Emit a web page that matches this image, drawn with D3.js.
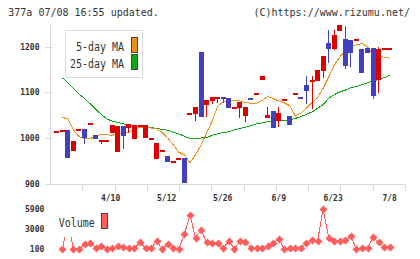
<!DOCTYPE html>
<html><head><meta charset="utf-8">
<script src="https://cdn.jsdelivr.net/npm/d3@7/dist/d3.min.js"></script>
<style>
body{margin:0;background:#fff}
svg{display:block}
text{font-family:"DejaVu Sans Mono","Liberation Mono",monospace}
</style>
</head><body>
<svg id="c" width="420" height="259"></svg>
<script>
// ---- data ----
const titleText = "377a 07/08 16:55 updated.";
const creditText = "(C)https://www.rizumu.net/";
const xLabels = ["4/10","5/12","5/26","6/9","6/23","7/8"];
const xLabelIdx = [9.7, 19.8, 29.9, 40, 49.8, 60];
const yTicks = [900, 1000, 1100, 1200];
const volTicks = [100, 3000, 5900];
const ma5Label = "5-day MA";
const ma25Label = "25-day MA";
const volLabel = "Volume";

const opens  = [1015,1017,1018,971,1019,1020,1033,1007,995,995,1010,970,1026,1023,998,1028,999,999,954,973,
                961,950,956,956,1055,1053,1188,1072,1081,1089,1089,1088,1067,1066,1048,1087,1099,1127,1044,1059,
                1037,1085,1048,1099,1089,1116,1124,1125,1147,1208,1195,1235,1217,1215,1216,1195,1197,1197,1127,1193,1197];
const closes = [1015,1017,957,993,1019,1001,1033,998,995,995,1028,1026,1005,1031,1028,1028,1028,999,989,973,
                948,950,956,902,1055,1068,1047,1083,1090,1089,1085,1066,1067,1079,1067,1084,1099,1136,1050,1023,
                1055,1085,1029,1099,1085,1104,1126,1149,1180,1195,1226,1247,1158,1186,1216,1143,1187,1092,1195,1197,1197];
const highs  = [1015,1017,1018,993,1019,1020,1033,1007,995,995,1028,1026,1026,1031,1028,1028,1028,999,989,973,
                961,950,956,956,1055,1068,1188,1083,1090,1089,1089,1088,1067,1079,1067,1087,1099,1136,1068,1059,
                1068,1085,1048,1099,1089,1136,1136,1149,1180,1236,1237,1247,1245,1215,1216,1195,1197,1197,1199,1197,1197];
const lows   = [1015,1017,957,971,1019,988,1033,998,988,995,1010,970,977,1010,998,1028,999,999,954,973,
                948,950,956,902,1055,1038,1047,1046,1074,1077,1076,1066,1067,1044,1036,1084,1099,1127,1044,1023,
                1025,1085,1029,1099,1085,1074,1063,1125,1132,1165,1193,1235,1152,1156,1216,1143,1187,1086,1099,1193,1197];
const ma5  = [null,1045,1042,1018,1003,999,998,1006,1007,1007,1006,1009,1010,1013,1020,1023,1023,1022,1020,1012,
              1000,985,969,963,946,963,985,1011,1037,1070,1079,1081,1083,1081,1078,1076,1076,1082,1091,1087,
              1081,1077,1071,1048,1055,1066,1078,1088,1109,1133,1160,1177,1192,1202,1204,1207,1200,1182,1180,1177,1175];
const ma25 = [null,1132,1121,1109,1096,1087,1075,1063,1052,1042,1037,1034,1031,1029,1025,1024,1024,1023,1021,1019,
              1017,1013,1009,1004,999,999,1000,1001,1006,1009,1012,1014,1018,1021,1024,1027,1031,1033,1036,1037,
              1038,1038,1040,1043,1047,1052,1057,1065,1073,1087,1095,1101,1105,1110,1113,1117,1121,1125,1128,1132,1137];
const volume = [null,100,4000,100,100,780,1015,290,535,100,200,535,435,290,200,1070,200,200,1300,100,
                825,200,100,2275,5030,1740,2855,1070,925,925,200,1260,100,1260,1070,200,200,200,535,925,
                1550,100,200,200,290,925,1405,1300,5900,1740,1260,1260,1405,1930,100,200,200,1785,1070,435,435];

// ---- styles ----
const C = {axis:"#d9d9d9", text:"#333", up:"#dd0000", down:"#4040c0", ma5:"#f0901a", ma25:"#10a810", vol:"#ff5c5c", swBorder:"#444"};

const svg = d3.select("#c").attr("shape-rendering","crispEdges");
const n = opens.length;
const x = d3.scaleLinear().domain([0, n-1]).range([56.8, 389.7]);
const y = d3.scaleLinear().domain([900, 1200]).range([183.7, 46.7]);
const yv = d3.scaleLinear().domain([100, 5900]).range([249, 209]);
const frame = d3.scaleLinear().domain([0, 11]).range([50, 405]); // grid divisions along the bottom axis
const px = v => Math.round(v) + 0.5;

// header texts
svg.append("text").attr("x", 8.3).attr("y", 16).attr("font-size", 10).attr("fill", C.text).text(titleText);
svg.append("text").attr("x", 410).attr("y", 16).attr("font-size", 10).attr("fill", C.text)
  .attr("text-anchor", "end").text(creditText);

// axes
const ax = svg.append("g").attr("stroke", C.axis).attr("stroke-width", 1);
ax.append("line").attr("x1", px(frame(0))).attr("x2", px(frame(0))).attr("y1", 25).attr("y2", px(y(900)));
ax.append("line").attr("x1", px(frame(0))).attr("x2", px(frame(11))).attr("y1", px(y(900))).attr("y2", px(y(900)));
ax.selectAll(".xt").data(d3.range(1, 12)).join("line")
  .attr("x1", d => px(frame(d))).attr("x2", d => px(frame(d)))
  .attr("y1", px(y(900))).attr("y2", px(y(900)) + 6);
ax.selectAll(".yt").data(yTicks).join("line")
  .attr("x1", 45).attr("x2", 53).attr("y1", d => px(y(d))).attr("y2", d => px(y(d)));

svg.append("g").selectAll("text").data(yTicks).join("text")
  .attr("x", 39.5).attr("y", d => y(d) + 3).attr("text-anchor", "end")
  .attr("font-size", 8).attr("font-weight", "bold").attr("fill", C.text).text(d => d);
svg.append("g").selectAll("text").data(xLabels).join("text")
  .attr("x", (d, i) => x(xLabelIdx[i])).attr("y", 201).attr("text-anchor", "middle")
  .attr("font-size", 8).attr("font-weight", "bold").attr("fill", C.text).text(d => d);

// moving averages
const lineGen = arr => d3.line().defined(d => d != null).x((d, i) => x(i)).y(d => y(d))(arr);
svg.append("path").attr("d", lineGen(ma25)).attr("fill", "none").attr("stroke", C.ma25).attr("stroke-width", 1);
svg.append("path").attr("d", lineGen(ma5)).attr("fill", "none").attr("stroke", C.ma5).attr("stroke-width", 1);

// candles
const idx = d3.range(n);
const cg = svg.append("g");
const col = i => closes[i] >= opens[i] ? C.up : C.down;
cg.selectAll(".wick").data(idx).join("rect")
  .attr("x", i => Math.round(x(i) - 2.5) + 2).attr("width", 1)
  .attr("y", i => Math.round(y(highs[i]))).attr("height", i => Math.max(1, Math.round(y(lows[i])) - Math.round(y(highs[i]))))
  .attr("fill", col);
cg.selectAll(".body").data(idx).join("rect")
  .attr("x", i => Math.round(x(i) - 2.5)).attr("width", 5)
  .attr("y", i => Math.round(y(Math.max(opens[i], closes[i]))))
  .attr("height", i => Math.max(2, Math.round(y(Math.min(opens[i], closes[i]))) - Math.round(y(Math.max(opens[i], closes[i])))))
  .attr("fill", col);

// legend (price)
const lg = svg.append("g");
lg.append("rect").attr("x", 65.5).attr("y", 30.5).attr("width", 77).attr("height", 47)
  .attr("fill", "#fff").attr("stroke", C.axis);
[[ma5Label, C.ma5, 51], [ma25Label, C.ma25, 67.5]].forEach(([t, c, by]) => {
  const w = t.length * 6;
  lg.append("text").attr("x", 124 - w).attr("y", by).attr("font-size", 12).attr("fill", C.text)
    .attr("textLength", w).attr("lengthAdjust", "spacingAndGlyphs").text(t);
  lg.append("rect").attr("x", 131.5).attr("y", by - 13.5).attr("width", 6).attr("height", 15)
    .attr("fill", c).attr("stroke", C.swBorder);
});

// volume
const vg = svg.append("g");
const vIdx = idx.filter(i => volume[i] != null);
vg.append("path").attr("d", d3.line().defined(d => d != null).x((d, i) => x(i)).y(d => yv(d))(volume))
  .attr("fill", "none").attr("stroke", C.vol).attr("stroke-width", 1);
vg.selectAll("path.dm").data(vIdx).join("path").attr("class", "dm")
  .attr("shape-rendering", "auto")
  .attr("transform", i => `translate(${Math.round(x(i)) + 0.5},${Math.round(yv(volume[i])) + 0.5})`)
  .attr("d", "M0,-4L4,0L0,4L-4,0Z").attr("fill", C.vol);
// volume legend (white box hides what runs beneath it)
const vw = volLabel.length * 6;
vg.append("rect").attr("x", 55).attr("y", 205).attr("width", 57).attr("height", 32).attr("fill", "#fff");
vg.append("text").attr("x", 58.7).attr("y", 227).attr("font-size", 12).attr("fill", C.text)
  .attr("textLength", vw).attr("lengthAdjust", "spacingAndGlyphs").text(volLabel);
vg.append("rect").attr("x", 101.5).attr("y", 213.5).attr("width", 6).attr("height", 15)
  .attr("fill", C.vol).attr("stroke", C.swBorder);
svg.append("g").selectAll("text").data(volTicks).join("text")
  .attr("x", 44.3).attr("y", d => yv(d) + 3).attr("text-anchor", "end")
  .attr("font-size", 8).attr("font-weight", "bold").attr("fill", C.text).text(d => d);
</script>
</body></html>
